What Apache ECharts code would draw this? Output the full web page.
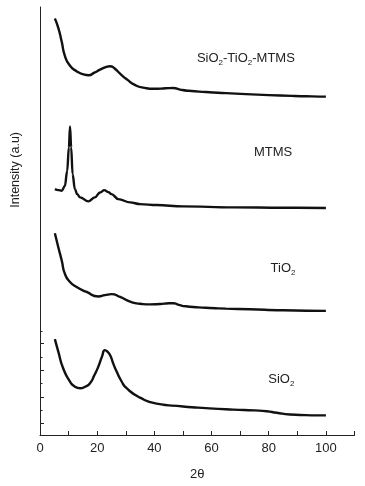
<!DOCTYPE html>
<html>
<head>
<meta charset="utf-8">
<script src="https://cdn.jsdelivr.net/npm/echarts@6/dist/echarts.min.js"></script>
<style>
  html, body { margin: 0; padding: 0; background: #fff; }
  #chart { width: 365px; height: 486px; }
</style>
</head>
<body>
<div id="chart"></div>
<script>
// XRD patterns, stacked with vertical offsets (arbitrary units)
var compositeData = [
  [5.2, 418.5], [6.4, 409], [7.6, 395], [8.7, 381], [10.5, 371], [12.8, 365.5],
  [15, 362.5], [17, 361.5], [19, 364], [21, 367], [23, 369.5], [24.5, 370.5],
  [26, 368.5], [28, 363], [30.5, 357], [33, 352], [36, 349], [40, 347.8],
  [44, 348.3], [46.6, 348.6], [49, 347], [52, 345.8], [58, 344.6], [65, 343.5],
  [72, 342.5], [80, 341.5], [88, 340.7], [95, 340.2], [100, 340]
];
var mtmsData = [
  [5.2, 247], [6.5, 246], [7.6, 245.3], [8.7, 250.3], [9.5, 265], [10.1, 289],
  [10.5, 310], [10.9, 289], [11.4, 262], [12.2, 247], [13, 242], [14, 238.7],
  [16.9, 234.7], [19.2, 238.7], [21, 243.7], [22.5, 246], [23.9, 244],
  [25, 242], [27.4, 237], [31.5, 233.7], [35, 232], [40.8, 231], [50, 229.7],
  [67.6, 228.7], [85, 228.3], [100, 228]
];
var tio2Data = [
  [5.2, 202.7], [6.4, 188.7], [7.6, 175.3], [8.7, 162], [10.5, 153.7],
  [12.8, 148.7], [16.3, 143.7], [20.4, 139.2], [22.7, 140.5], [25, 141.5],
  [28, 138.7], [31.5, 134], [35, 131.8], [38.5, 131.2], [42, 131.6],
  [45, 132.3], [46.6, 132.4], [48.5, 130.8], [51, 129.3], [58, 127.8],
  [65, 127], [73.4, 126.3], [85, 125.3], [100, 124.7]
];
var sio2Data = [
  [5.2, 96.3], [6.4, 83.7], [8.1, 67], [10.5, 53.7], [12, 49], [14, 47],
  [15.8, 48.5], [17.5, 52], [19, 60], [20.4, 68.7], [21.7, 79], [22.7, 85.3],
  [23.5, 84], [24.5, 80.3], [25.6, 72], [26.8, 63.7], [28.5, 54], [30.3, 47],
  [35, 37.5], [40.8, 31.5], [50, 28.7], [58, 27], [67.6, 25.5], [75, 24.7],
  [79.3, 23.9], [82.8, 22.3], [87.4, 20.6], [93, 20], [100, 19.7]
];

// sample labels: text (rich), 2theta, intensity
var labelTexts = ['SiO{s|2}-TiO{s|2}-MTMS', 'MTMS', 'TiO{s|2}', 'SiO{s|2}'];
var labelCoords = [[72, 378], [81.5, 284], [85, 167], [84.4, 55.5]];

var yMajorTicks = [12, 38, 65, 92];
var yMinorTicks = [24.5, 51.5, 78.5, 104.5];

var textColor = '#222';
var fontFamily = 'Liberation Sans, Arial, sans-serif';

var chart = echarts.init(document.getElementById('chart'));

function makeSeries(data, idx, sharp) {
  var s = {
    type: 'line',
    data: data,
    showSymbol: false,
    smooth: sharp ? 0.4 : 0.6,
    lineStyle: { color: '#111', width: 2.4 },
    silent: true,
    markPoint: {
      symbol: 'circle',
      symbolSize: 0,
      silent: true,
      data: [{
        coord: labelCoords[idx],
        label: {
          show: true,
          position: 'inside',
          formatter: labelTexts[idx],
          color: textColor,
          fontFamily: fontFamily,
          fontSize: 13,
          lineHeight: 16,
          rich: {
            s: { fontSize: 8, lineHeight: 8, verticalAlign: 'bottom', color: textColor, fontFamily: fontFamily }
          }
        }
      }]
    }
  };
  if (sharp) s.smoothMonotone = 'x';
  return s;
}

var option = {
  animation: false,
  grid: { left: 40, right: 10.5, top: 7, bottom: 49 },
  xAxis: {
    type: 'value',
    min: 0,
    max: 110,
    interval: 10,
    name: '2θ',
    nameLocation: 'middle',
    nameGap: 33,
    nameTextStyle: { color: textColor, fontSize: 13, fontFamily: fontFamily },
    axisLine: { lineStyle: { color: '#222', width: 1 } },
    axisTick: { inside: true, length: 4, lineStyle: { color: '#222' } },
    axisLabel: {
      color: textColor, fontSize: 13, fontFamily: fontFamily, margin: 7,
      formatter: function (v) { return (v % 20 === 0 && v <= 100) ? String(v) : ''; }
    },
    splitLine: { show: false }
  },
  yAxis: [{
    type: 'value',
    min: 0,
    max: 430,
    axisLine: { show: true, lineStyle: { color: '#222', width: 1 } },
    axisTick: { show: true, inside: true, length: 4, customValues: yMajorTicks, lineStyle: { color: '#222' } },
    axisLabel: { show: false },
    splitLine: { show: false }
  }, {
    type: 'value',
    min: 0,
    max: 430,
    position: 'left',
    axisLine: { show: false },
    axisTick: { show: true, inside: true, length: 2.5, customValues: yMinorTicks, lineStyle: { color: '#222' } },
    axisLabel: { show: false },
    splitLine: { show: false }
  }],
  graphic: [{
    type: 'text',
    left: 9,
    top: 132,
    style: {
      text: 'Intensity (a.u)',
      fill: textColor,
      font: '12.5px ' + fontFamily
    },
    rotation: Math.PI / 2,
    originX: 0,
    originY: 0
  }],
  series: [
    makeSeries(compositeData, 0, false),
    makeSeries(mtmsData, 1, true),
    makeSeries(tio2Data, 2, false),
    makeSeries(sio2Data, 3, false)
  ]
};

chart.setOption(option);
</script>
</body>
</html>
